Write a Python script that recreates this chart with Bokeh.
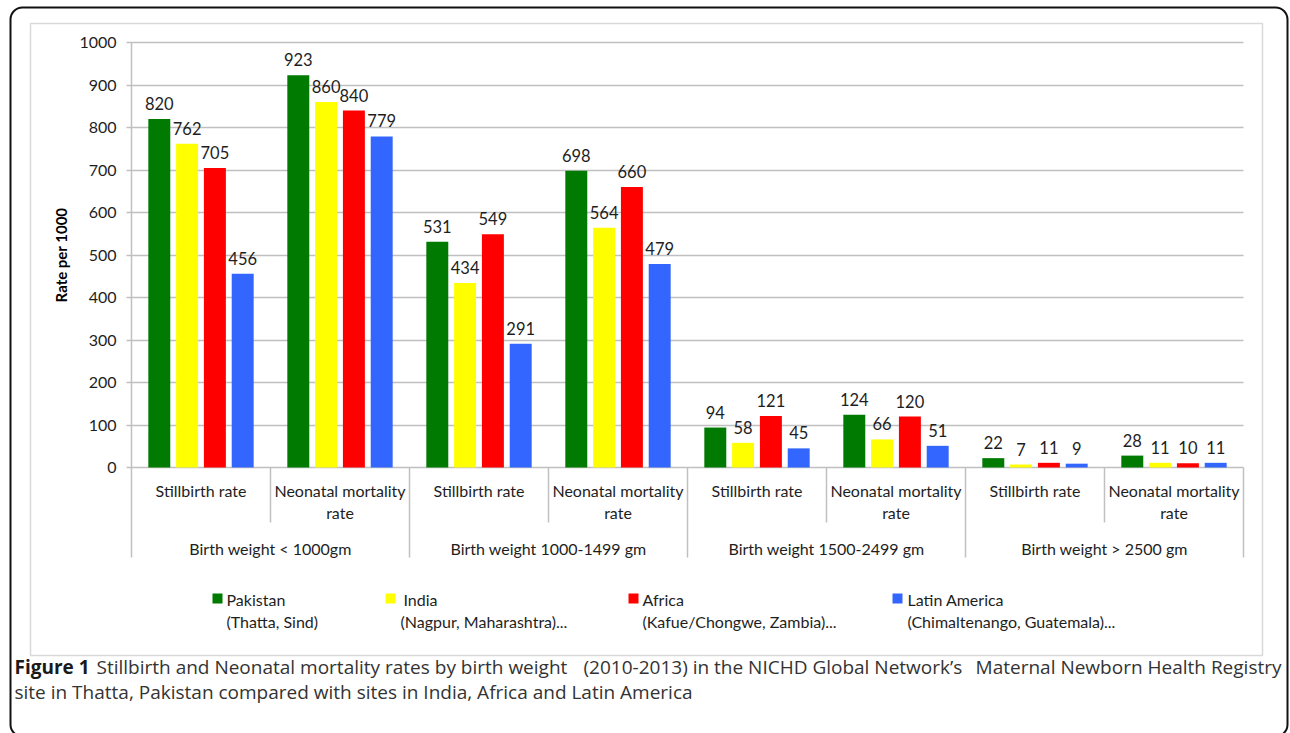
from bokeh.plotting import figure
from bokeh.models import (ColumnDataSource, Range1d, FixedTicker, BoxAnnotation)
from bokeh.core.properties import value
from bokeh.embed import file_html
from bokeh.resources import INLINE

# ---------------- data ----------------
weight_groups = ["Birth weight < 1000gm", "Birth weight 1000-1499 gm",
                 "Birth weight 1500-2499 gm", "Birth weight > 2500 gm"]
rate_types = ["Stillbirth rate", "Neonatal mortality rate"]
countries = ["Pakistan", "India", "Africa", "Latin America"]
country_sites = ["(Thatta, Sind)", "(Nagpur, Maharashtra)...",
                 "(Kafue/Chongwe, Zambia)...", "(Chimaltenango, Guatemala)..."]
pakistan = [820, 923, 531, 698, 94, 124, 22, 28]
india = [762, 860, 434, 564, 58, 66, 7, 11]
africa = [705, 840, 549, 660, 121, 120, 11, 10]
latin_america = [456, 779, 291, 479, 45, 51, 9, 11]
y_ticks = [0, 100, 200, 300, 400, 500, 600, 700, 800, 900, 1000]

series = [pakistan, india, africa, latin_america]
colors = ["#007a00", "#ffff00", "#ff0000", "#3366ff"]
offsets = [-0.3, -0.1, 0.1, 0.3]

FONT = "Lato"
TXT = "#1e1e1e"
GRAY = "#c0c0c0"
FS = "16px"

W, H = 1290, 733
FL, FR, FT, FB = 131, 1243, 42, 467          # chart plot area in page px
UX = (FR - FL) / 8.0
UY = (FB - FT) / 1000.0


def dx(px):
    return (px - FL) / UX


def dy(py):
    return (FB - py) / UY


p = figure(width=W, height=H, output_backend="svg", toolbar_location=None,
           x_range=Range1d(dx(0), dx(W)), y_range=Range1d(dy(H), dy(0)),
           min_border=0, min_border_left=0, min_border_right=0,
           min_border_top=0, min_border_bottom=0)
p.outline_line_color = None
p.background_fill_color = "white"
p.border_fill_color = "white"
p.xaxis.visible = False
p.xgrid.visible = False

# y axis drawn at the left edge of the chart area
yax = p.yaxis[0]
yax.fixed_location = 0
yax.bounds = (0, 1000)
yax.ticker = FixedTicker(ticks=y_ticks)
yax.axis_line_color = GRAY
yax.axis_line_width = 1.5
yax.major_tick_line_color = GRAY
yax.major_tick_line_width = 1.5
yax.major_tick_out = 5
yax.major_tick_in = 0
yax.minor_tick_line_color = None
yax.major_label_standoff = 10
yax.major_label_text_font = FONT
yax.major_label_text_font_size = FS
yax.major_label_text_color = TXT
yax.axis_label = "Rate per 1000"
yax.axis_label_text_font = FONT
yax.axis_label_text_font_style = "bold"
yax.axis_label_text_font_size = "15px"
yax.axis_label_text_color = "#000000"
yax.axis_label_standoff = 6

# horizontal gridlines across the chart area only
grid = p.ygrid[0]
grid.ticker = FixedTicker(ticks=y_ticks)
grid.grid_line_color = GRAY
grid.grid_line_width = 1.5
if "cross_bounds" in grid.properties():
    grid.cross_bounds = (0, 8)
else:
    grid.visible = False
    p.segment(x0=0, x1=8, y0=y_ticks, y1=y_ticks, line_color=GRAY, line_width=1.5)

# bars + value labels
for vals, col, off in zip(series, colors, offsets):
    xs = [i + 0.5 + off for i in range(len(vals))]
    src = ColumnDataSource(dict(x=xs, top=vals, lab=[str(v) for v in vals]))
    p.vbar(x="x", top="top", bottom=0, width=0.158, source=src,
           fill_color=col, line_color=None)
    p.text(x="x", y="top", text="lab", source=src, text_align="center",
           text_baseline="bottom", y_offset=-9, text_font=value(FONT),
           text_font_size="16.5px", text_color=TXT)

# category separators (table style)
sep_x = list(range(9))
sep_bottom = [dy(557) if i % 2 == 0 else dy(522) for i in sep_x]
p.segment(x0=sep_x, x1=sep_x, y0=[0] * 9, y1=sep_bottom, line_color=GRAY,
          line_width=1.5)

# category labels
lab1_x, lab1_y, lab1_t = [], [], []
for i in range(8):
    rt = rate_types[i % 2]
    if rt == "Stillbirth rate":
        lab1_x.append(i + 0.5); lab1_y.append(dy(490)); lab1_t.append(rt)
    else:
        lab1_x += [i + 0.5, i + 0.5]
        lab1_y += [dy(490), dy(512)]
        lab1_t += ["Neonatal mortality", "rate"]
p.text(x=lab1_x, y=lab1_y, text=lab1_t, text_align="center",
       text_baseline="middle", text_font=value(FONT), text_font_size=FS,
       text_color=TXT)
p.text(x=[2 * g + 1 for g in range(4)], y=[dy(548)] * 4, text=weight_groups,
       text_align="center", text_baseline="middle", text_font=value(FONT),
       text_font_size=FS, text_color=TXT)

# legend
marker_px = [217, 390, 633, 897]
text_px = [226, 403, 642, 907]
site_px = [226, 400, 642, 907]
p.scatter(x=[dx(m) for m in marker_px], y=[dy(598)] * 4, marker="square",
          size=10, fill_color=colors, line_color=None)
p.text(x=[dx(t) for t in text_px], y=[dy(599)] * 4, text=countries,
       text_align="left", text_baseline="middle", text_font=value(FONT),
       text_font_size=FS, text_color=TXT)
p.text(x=[dx(t) for t in site_px], y=[dy(621)] * 4, text=country_sites,
       text_align="left", text_baseline="middle", text_font=value(FONT),
       text_font_size=FS, text_color=TXT)

# inner chart frame
p.add_layout(BoxAnnotation(left=dx(30), right=dx(1262), top=dy(23), bottom=dy(655),
                           fill_alpha=0, line_color="#d9d9d9", line_alpha=1,
                           line_width=1.5))
# outer rounded border
p.add_layout(BoxAnnotation(left=dx(10), right=dx(1287), top=dy(7), bottom=dy(736),
                           fill_alpha=0, line_color="#111111", line_alpha=1,
                           line_width=2, border_radius=12))

# caption (line 1 split to imitate justified text)
CAPF = "Open Sans"
CFS = "19px"
p.text(x=[dx(14)], y=[dy(666)], text=["Figure 1"], text_align="left",
       text_baseline="middle", text_font=value(CAPF), text_font_style="bold",
       text_font_size=CFS, text_color="#1a1a1a")
p.text(x=[dx(96), dx(583), dx(14)], y=[dy(666), dy(666), dy(691)],
       text=["Stillbirth and Neonatal mortality rates by birth weight",
             "(2010-2013) in the NICHD Global Network\u2019s",
             "site in Thatta, Pakistan compared with sites in India, Africa and Latin America"],
       text_align="left", text_baseline="middle", text_font=value(CAPF),
       text_font_size=CFS, text_color="#333333")
p.text(x=[dx(1281)], y=[dy(666)], text=["Maternal Newborn Health Registry"],
       text_align="right", text_baseline="middle", text_font=value(CAPF),
       text_font_size=CFS, text_color="#333333")

open("out.html", "w").write(file_html(p, INLINE))
